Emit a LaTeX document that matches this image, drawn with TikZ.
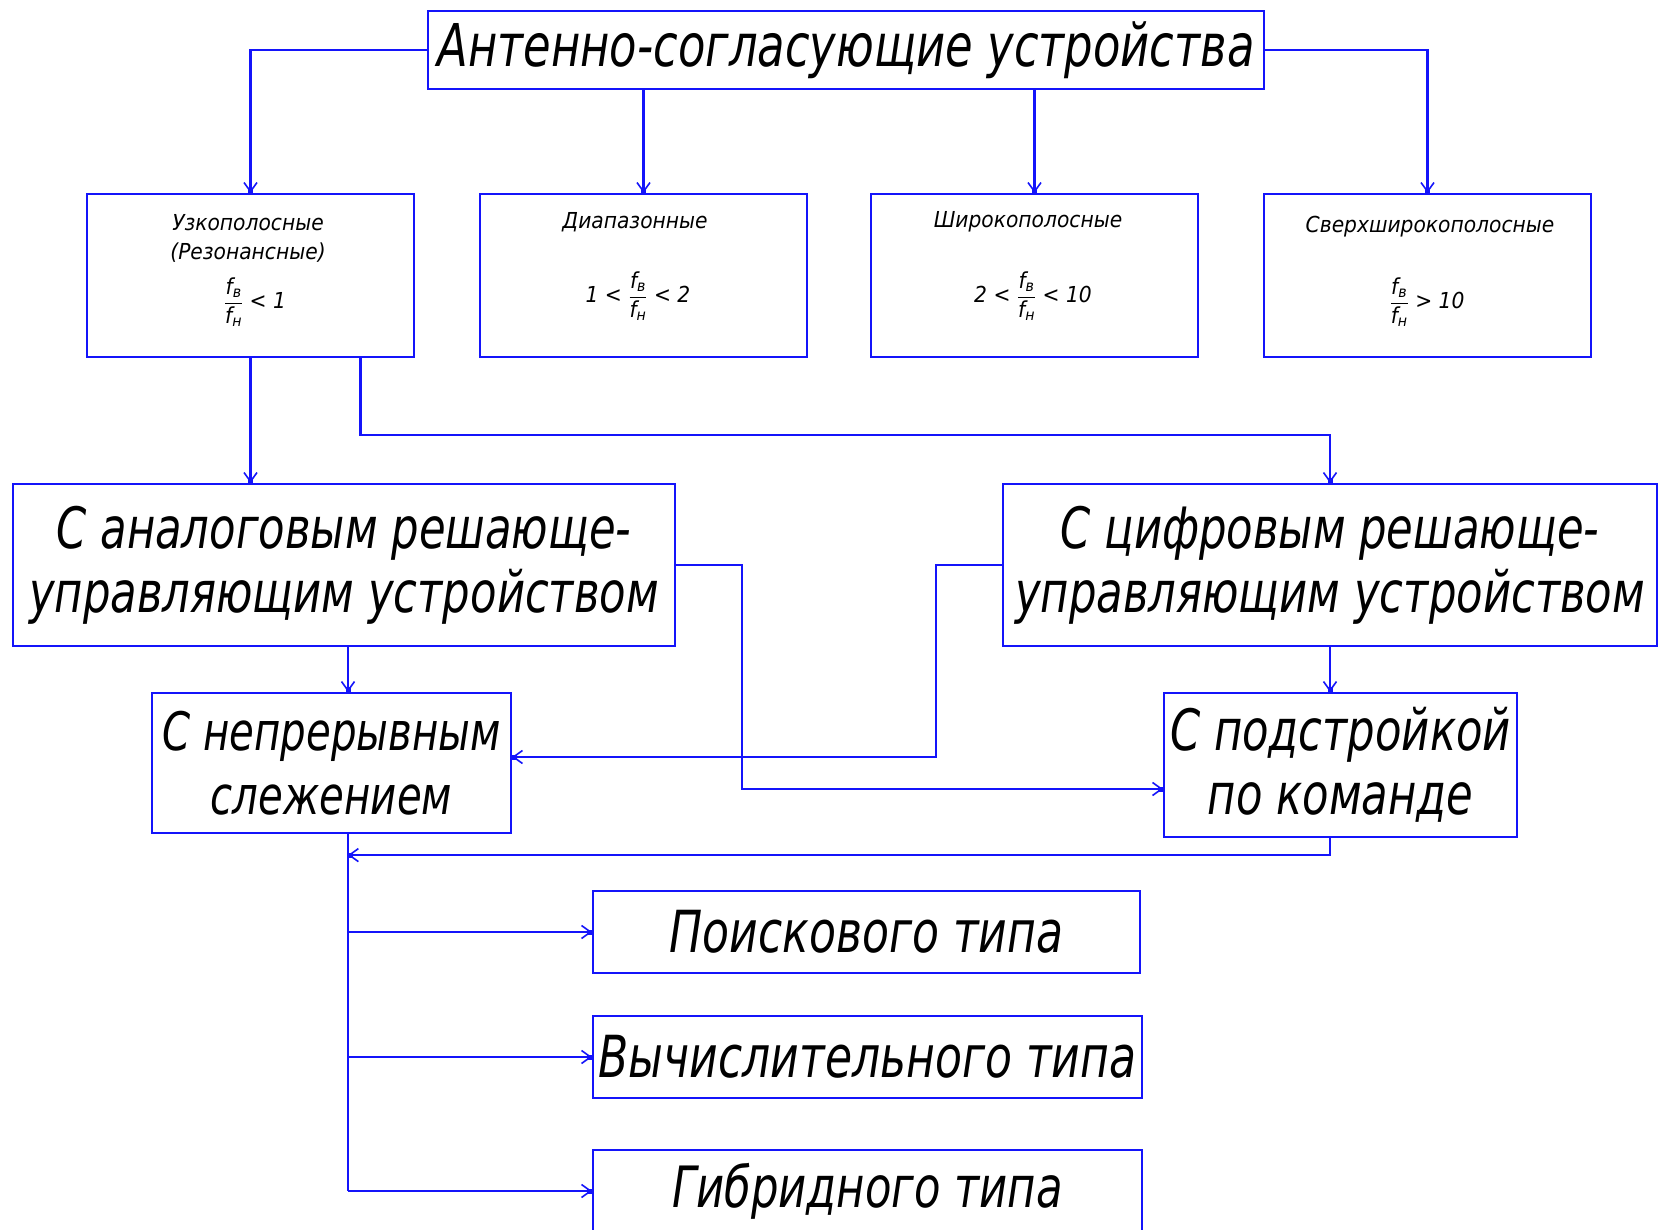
\documentclass[tikz,border=0pt]{standalone}
\usepackage{amsmath}
\usepackage{fontspec}
\setmainfont{DejaVu Sans}[FakeStretch=0.76]
\newfontfamily\smallfam{DejaVu Sans}[FakeStretch=0.92]
\usetikzlibrary{arrows.meta}
\definecolor{ln}{RGB}{20,20,250}
\newcommand\fvn{\ensuremath{\dfrac{\textit{f}_{\textit{в}}}{\textit{f}_{\textit{н}}}}}
\begin{document}
\begin{tikzpicture}[x=1pt,y=-1pt,
  box/.style={draw=ln,line width=2.2pt,inner sep=0pt,align=center,font=\fontsize{57}{64}\selectfont\itshape},
  sbox/.style={draw=ln,line width=2.2pt,inner sep=0pt,minimum width=327pt,minimum height=163pt},
  stxt/.style={inner sep=0pt,align=center,font=\smallfam\fontsize{22}{30}\selectfont\itshape},
  conn/.style={draw=ln,line width=2.2pt},
  arr/.style={conn,-{Straight Barb[length=9pt,width=13pt,line width=1.6pt,sep=-5pt]Square[length=5pt,width=5pt]}}]
\fill[white] (0,0) rectangle (1660,1230);
\useasboundingbox (0,0) rectangle (1660,1230);
% top
\node[box,minimum width=836pt,minimum height=78pt,font=\fontsize{59}{64}\selectfont\itshape] (top) at (846,50) {Антенно-согласующие устройства};
% row 2
\node[sbox] (b1) at (250.5,275.5) {};
\node[sbox] (b2) at (643.5,275.5) {};
\node[sbox] (b3) at (1034.5,275.5) {};
\node[sbox] (b4) at (1427.5,275.5) {};
\node[stxt] (b1t) at (248,223) {Узкополосные};
\node[stxt] (b1u) at (248,253) {(Резонансные)};
\node[stxt] (b1f) at (255,302) {\fvn{} < 1};
\node[stxt] (b2t) at (635,222) {Диапазонные};
\node[stxt] (b2f) at (638,296) {1 < \fvn{} < 2};
\node[stxt] (b3t) at (1028,222) {Широкополосные};
\node[stxt] (b3f) at (1033,296) {2 < \fvn{} < 10};
\node[stxt] (b4t) at (1430,227) {Сверхширокополосные};
\node[stxt] (b4f) at (1427,302) {\fvn{} > 10};
% row 3
\node[box,minimum width=662pt,minimum height=162pt] (A) at (344,565) {С аналоговым решающе-\\управляющим устройством};
\node[box,minimum width=654pt,minimum height=162pt] (B) at (1330,565) {С цифровым решающе-\\управляющим устройством};
% row 4
\node[box,minimum width=359pt,minimum height=140pt,font=\fontsize{53}{64}\selectfont\itshape] (C) at (331.5,763) {С непрерывным\\слежением};
\node[box,minimum width=353pt,minimum height=144pt] (D) at (1340.5,765) {С подстройкой\\по команде};
% bottom list
\node[box,minimum width=547pt,minimum height=82pt,font=\fontsize{58}{64}\selectfont\itshape] (E) at (866.5,932) {Поискового типа};
\node[box,minimum width=549pt,minimum height=82pt,font=\fontsize{58}{64}\selectfont\itshape] (F) at (867.5,1057) {Вычислительного типа};
\node[box,minimum width=549pt,minimum height=82pt] (G) at (867.5,1191) {Гибридного типа};
% connectors
\draw[arr] (top.west) -| (b1.north);
\draw[arr] (top.east) -| (b4.north);
\draw[arr] (top.south -| b2.north) -- (b2.north);
\draw[arr] (top.south -| b3.north) -- (b3.north);
\draw[arr] (b1.south) -- (b1.south |- A.north);
\draw[arr] ([xshift=110pt]b1.south) -- ++(0,77) -| (B.north);
\coordinate (as) at ([xshift=4pt]A.south);
\draw[arr] (as) -- (as |- C.north);
\draw[arr] (B.south) -- (B.south |- D.north);
\draw[arr] (A.east) -- ++(66,0) |- ([yshift=-24pt]D.west);
\draw[arr] (B.west) -- ++(-66,0) |- ([yshift=6pt]C.east);
\path (as |- C.south) ++(0,21) coordinate (jn);
\draw[arr] (B.south |- D.south) |- (jn);
\draw[conn] (as |- C.south) -- (as |- G.west);
\draw[arr] (as |- E.west) -- (E.west);
\draw[arr] (as |- F.west) -- (F.west);
\draw[arr] (as |- G.west) -- (G.west);
\end{tikzpicture}
\end{document}
